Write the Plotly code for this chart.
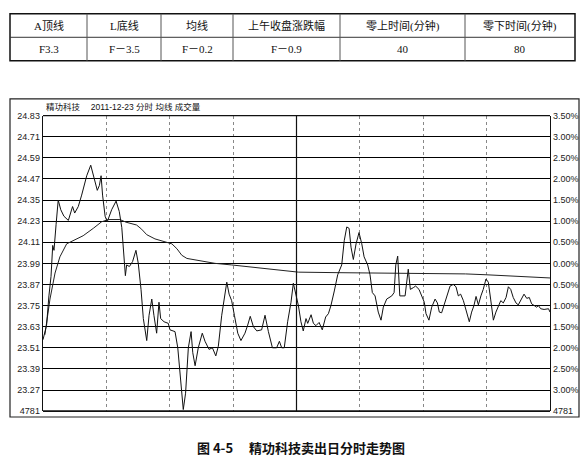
import plotly.graph_objects as go

# ---------------- data ----------------
price_min = [0, 1.7, 2.8, 3.8, 4.6, 5.2, 6.2, 7.2, 8.4, 9.9, 12.0, 14.0, 15.0, 16.7, 18.3,
             20.7, 22.6, 24.1, 25.7, 26.7, 27.5, 28.2, 29.4, 30.4, 32.5, 34.6, 36.1, 37.3,
             38.3, 39.0, 39.6, 40.9, 42.4, 44.0, 45.1, 46.4, 47.5, 49.1, 50.2, 51.5, 52.5,
             53.8, 54.9, 55.7, 57.3, 59.3, 60.1, 62.5, 63.8, 64.9, 66.4, 67.5, 68.8, 70.1,
             70.9, 72.0, 73.5, 75.4, 76.7, 78.6, 80.2, 81.8, 83.0, 84.6, 85.8, 87.0, 88.1,
             89.3, 90.6, 92.2, 93.7, 95.6, 96.9, 98.1, 99.6, 101.2, 103.5, 105.1, 106.7,
             108.6, 110.6, 111.9, 113.0, 114.2, 115.8, 117.4, 118.5, 119.8, 120.9, 122.1,
             123.2, 124.5, 125.3, 126.9, 128.0, 129.2, 130.7, 132.2, 133.8, 135.1, 136.3,
             137.9, 139.5, 141.4, 142.6, 143.8, 144.9, 145.8, 146.9, 148.2, 149.6, 150.9,
             152.0, 153.7, 154.8, 155.9, 157.2, 158.7, 160.0, 161.1, 162.7, 165.1, 166.2,
             167.0, 167.9, 168.9, 171.4, 172.9, 173.9, 175.3, 176.4, 178.0, 179.3, 180.5,
             181.3, 182.7, 184.0, 185.6, 186.7, 187.6, 188.7, 189.8, 191.1, 192.7, 194.2,
             195.5, 196.6, 197.7, 199.0, 200.6, 201.8, 202.9, 204.0, 205.0, 206.1, 207.3,
             208.4, 209.7, 210.8, 211.9, 213.2, 214.4, 215.5, 216.7, 217.9, 219.2, 220.3,
             221.4, 222.6, 223.9, 225.0, 226.6, 227.7, 229.0, 230.2, 231.3, 232.4, 233.7,
             234.5, 235.6, 237.2, 239.3, 240]
price_val = [23.556, 23.639, 23.805, 23.916, 24.092, 24.064, 24.212, 24.350, 24.295, 24.258,
             24.234, 24.313, 24.276, 24.313, 24.378, 24.488, 24.548, 24.470, 24.405, 24.433,
             24.488, 24.378, 24.258, 24.226, 24.295, 24.344, 24.285, 24.193, 24.008, 23.920,
             23.981, 23.972, 24.000, 24.064, 23.990, 23.842, 23.676, 23.551, 23.695, 23.787,
             23.695, 23.593, 23.769, 23.676, 23.658, 23.649, 23.612, 23.602, 23.510, 23.362,
             23.159, 23.252, 23.510, 23.602, 23.482, 23.408, 23.510, 23.593, 23.547, 23.501,
             23.510, 23.464, 23.519, 23.695, 23.805, 23.883, 23.815, 23.778, 23.695, 23.593,
             23.551, 23.593, 23.639, 23.689, 23.630, 23.606, 23.612, 23.695, 23.602, 23.510,
             23.510, 23.547, 23.510, 23.510, 23.658, 23.769, 23.877, 23.810, 23.750, 23.658,
             23.606, 23.676, 23.649, 23.698, 23.649, 23.636, 23.654, 23.612, 23.685, 23.704,
             23.750, 23.833, 23.925, 23.981, 24.119, 24.197, 24.189, 24.082, 24.012, 24.101,
             24.165, 24.101, 24.027, 23.981, 23.925, 23.824, 23.805, 23.713, 23.667, 23.741,
             23.787, 23.805, 23.824, 23.981, 24.031, 23.805, 23.805, 23.957, 23.842, 23.852,
             23.861, 23.842, 23.805, 23.769, 23.704, 23.667, 23.741, 23.787, 23.765, 23.713,
             23.709, 23.750, 23.805, 23.861, 23.870, 23.857, 23.805, 23.815, 23.778, 23.713,
             23.658, 23.713, 23.750, 23.802, 23.754, 23.805, 23.842, 23.901, 23.883, 23.787,
             23.667, 23.713, 23.750, 23.778, 23.765, 23.796, 23.857, 23.842, 23.796, 23.765,
             23.754, 23.796, 23.815, 23.791, 23.796, 23.760, 23.750, 23.741, 23.750, 23.732,
             23.728, 23.732, 23.713]

avg_min = [0.9, 3.3, 5.7, 8.0, 11.2, 15.1, 19.0, 23.8, 27.7, 30.9, 36.4, 39.3, 44.3, 46.7,
           49.1, 53.0, 59.3, 61.0, 63.4, 65.7, 68.1, 73.5, 81.4, 89.3, 105.1, 117.7, 120.9,
           140, 160, 178.5, 200, 210, 225, 240]
avg_val = [23.584, 23.787, 23.935, 24.027, 24.101, 24.123, 24.147, 24.189, 24.226, 24.239,
           24.239, 24.224, 24.208, 24.184, 24.153, 24.129, 24.110, 24.101, 24.073, 24.036,
           24.018, 24.005, 23.990, 23.981, 23.962, 23.944, 23.940, 23.937, 23.935, 23.935,
           23.930, 23.925, 23.917, 23.907]

left_ticks = [24.83, 24.71, 24.59, 24.47, 24.35, 24.23, 24.11, 23.99, 23.87, 23.75, 23.63,
              23.51, 23.39, 23.27, 23.15]
left_labels = ["24.83", "24.71", "24.59", "24.47", "24.35", "24.23", "24.11", "23.99",
               "23.87", "23.75", "23.63", "23.51", "23.39", "23.27", "4781"]
right_labels = ["3.50%", "3.00%", "2.50%", "2.00%", "1.50%", "1.00%", "0.50%", "0.00%",
                "0.50%", "1.00%", "1.50%", "2.00%", "2.50%", "3.00%", "4781"]

table_header = ["A顶线", "L底线", "均线", "上午收盘涨跌幅", "零上时间(分钟)", "零下时间(分钟)"]
table_values = ["F3.3", "F－3.5", "F－0.2", "F－0.9", "40", "80"]

title_text = "精功科技　 2011-12-23 分时 均线 成交量"
caption = "图 4-5　 精功科技卖出日分时走势图"

# ---------------- figure ----------------
W, H = 585, 468


def px(x):
    return x / W


def py(y):
    return 1 - y / H


fig = go.Figure()
fig.add_trace(go.Scatter(x=avg_min, y=avg_val, mode="lines", line=dict(color="#222", width=1),
                         hoverinfo="skip", showlegend=False))
fig.add_trace(go.Scatter(x=price_min, y=price_val, mode="lines", line=dict(color="#111", width=1),
                         hoverinfo="skip", showlegend=False))
fig.add_trace(go.Scatter(x=[0], y=[23.99], yaxis="y2", mode="markers", marker=dict(opacity=0),
                         hoverinfo="skip", showlegend=False))

tick_font = dict(family="Liberation Sans, Arial, sans-serif", size=9, color="#222")
yr = [23.15, 24.83]

fig.update_layout(
    width=W, height=H, autosize=False,
    margin=dict(l=0, r=0, t=0, b=0),
    paper_bgcolor="white", plot_bgcolor="white",
    xaxis=dict(domain=[px(43), px(550)], range=[0, 240], showticklabels=False, ticks="",
               showgrid=True, dtick=30, tick0=0, gridcolor="#888", griddash="dot", gridwidth=1,
               zeroline=False, showline=False, fixedrange=True),
    yaxis=dict(domain=[py(415), py(113)], range=yr, tickvals=left_ticks, ticktext=left_labels,
               showgrid=True, gridcolor="#000", gridwidth=1, zeroline=False,
               showline=True, linecolor="#111", linewidth=1.3, ticks="", ticklen=0,
               tickfont=tick_font, fixedrange=True),
    yaxis2=dict(overlaying="y", side="right", range=yr, tickvals=left_ticks, ticktext=right_labels,
                showgrid=False, zeroline=False, showline=True, linecolor="#111", linewidth=1.3,
                ticks="", tickfont=tick_font, fixedrange=True),
)

shapes = []
# midday solid line
shapes.append(dict(type="line", xref="x", yref="paper", x0=120, x1=120, y0=py(415), y1=py(113),
                   line=dict(color="#111", width=1.2)))
# plot bottom and top lines
shapes.append(dict(type="line", xref="paper", yref="paper", x0=px(43), x1=px(550), y0=py(415), y1=py(415),
                   line=dict(color="#111", width=1.8)))
shapes.append(dict(type="line", xref="paper", yref="paper", x0=px(43), x1=px(550), y0=py(113), y1=py(113),
                   line=dict(color="#111", width=1.2)))
# outer chart frame
shapes.append(dict(type="rect", xref="paper", yref="paper", x0=px(10), x1=px(579), y0=py(421), y1=py(96),
                   line=dict(color="#222", width=1.2)))

# table
tx = [10, 87, 161, 233, 340, 465, 575]
ty_top, ty_mid, ty_bot = 9, 33, 57
shapes.append(dict(type="rect", xref="paper", yref="paper", x0=px(tx[0]), x1=px(tx[-1]),
                   y0=py(ty_bot), y1=py(ty_top), line=dict(color="#111", width=1.5)))
shapes.append(dict(type="line", xref="paper", yref="paper", x0=px(tx[0]), x1=px(tx[-1]),
                   y0=py(ty_mid), y1=py(ty_mid), line=dict(color="#333", width=1)))
for xv in tx[1:-1]:
    shapes.append(dict(type="line", xref="paper", yref="paper", x0=px(xv), x1=px(xv),
                       y0=py(ty_bot), y1=py(ty_top), line=dict(color="#555", width=1)))
fig.update_layout(shapes=shapes)

ann = []
tfont = dict(family="Liberation Serif, Noto Sans CJK SC, serif", size=11, color="#111")
for i in range(6):
    cx = (tx[i] + tx[i + 1]) / 2
    ann.append(dict(x=px(cx), y=py((ty_top + ty_mid) / 2), xref="paper", yref="paper",
                    text=table_header[i], showarrow=False, font=tfont, xanchor="center", yanchor="middle"))
    ann.append(dict(x=px(cx), y=py((ty_mid + ty_bot) / 2), xref="paper", yref="paper",
                    text=table_values[i], showarrow=False, font=tfont, xanchor="center", yanchor="middle"))
ann.append(dict(x=px(44), y=py(104), xref="paper", yref="paper", text=title_text, showarrow=False,
                font=dict(family="Liberation Sans, Noto Sans CJK SC, sans-serif", size=8.5, color="#111"),
                xanchor="left", yanchor="middle"))
ann.append(dict(x=px(301), y=py(452), xref="paper", yref="paper", text="<b>" + caption + "</b>",
                showarrow=False, font=dict(family="Noto Sans CJK SC, sans-serif", size=13, color="#111"),
                xanchor="center", yanchor="middle"))
fig.update_layout(annotations=ann)

fig.write_html("out.html", config={"displayModeBar": False, "staticPlot": True},
               post_script="document.body.style.margin='0';document.body.style.padding='0';")
